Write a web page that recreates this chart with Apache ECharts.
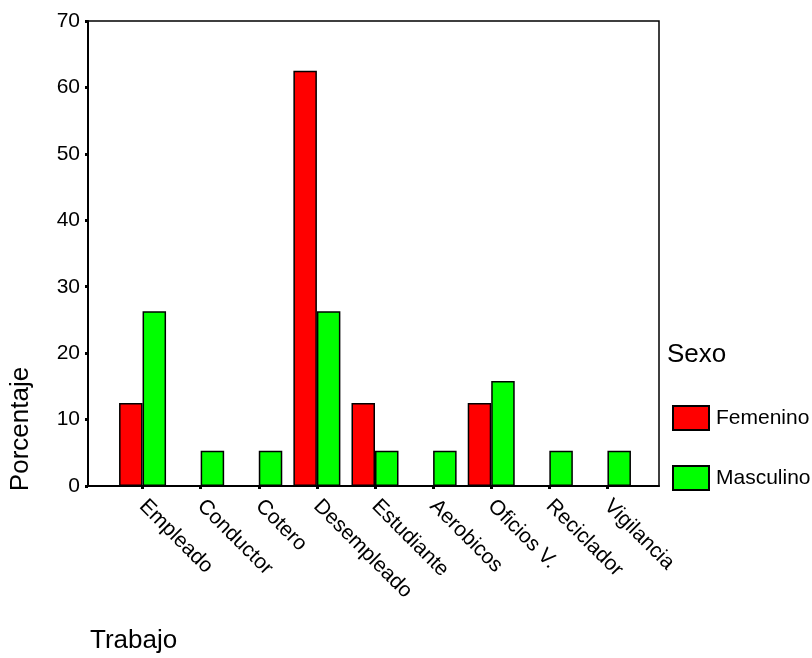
<!DOCTYPE html>
<html>
<head>
<meta charset="utf-8">
<script src="https://cdn.jsdelivr.net/npm/echarts@6/dist/echarts.min.js"></script>
<style>
html,body{margin:0;padding:0;background:#fff;}
#c{width:812px;height:658px;}
</style>
</head>
<body>
<div id="c"></div>
<script>
const categories = ['Empleado','Conductor','Cotero','Desempleado','Estudiante','Aerobicos','Oficios V.','Reciclador','Vigilancia'];
const femenino = [12.5, 0, 0, 62.5, 12.5, 0, 12.5, 0, 0];
const masculino = [26.3, 5.3, 5.3, 26.3, 5.3, 5.3, 15.8, 5.3, 5.3];
const yTicks = [0, 10, 20, 30, 40, 50, 60, 70];

const FONT = 'Liberation Sans, Arial, sans-serif';
const chart = echarts.init(document.getElementById('c'));
const toData = arr => arr.map(v => v === 0 ? '-' : v);

chart.setOption({
  animation: false,
  backgroundColor: '#fff',
  textStyle: { fontFamily: FONT },
  grid: [
    { left: 88, top: 21, width: 571, height: 465, show: true, borderColor: '#000', borderWidth: 1.5, backgroundColor: 'transparent' },
    { left: 113.5, top: 21, width: 523, height: 465 }
  ],
  xAxis: [
    { gridIndex: 0, type: 'value', min: 0, max: 1, show: true,
      axisLine: { show: true, lineStyle: { color: '#000', width: 2 } },
      axisTick: { show: false }, axisLabel: { show: false }, splitLine: { show: false } },
    { gridIndex: 1, type: 'category', data: categories,
      axisLine: { show: false },
      axisTick: { show: true, alignWithLabel: true, length: 3, lineStyle: { color: '#000', width: 3 } },
      axisLabel: { rotate: -45, fontSize: 21, color: '#000', margin: 17, interval: 0, fontFamily: FONT } }
  ],
  yAxis: [
    { gridIndex: 0, type: 'value', min: yTicks[0], max: yTicks[yTicks.length-1], interval: 10,
      axisLine: { show: true, lineStyle: { color: '#000', width: 2 } },
      axisTick: { show: true, length: 3, lineStyle: { color: '#000', width: 3 } },
      axisLabel: { fontSize: 21, color: '#000', margin: 8, fontFamily: FONT },
      splitLine: { show: false } },
    { gridIndex: 1, type: 'value', min: yTicks[0], max: yTicks[yTicks.length-1], show: false }
  ],
  legend: {
    orient: 'vertical', left: 672, top: 405, padding: 0, itemWidth: 36, itemHeight: 24, itemGap: 34,
    icon: 'rect',
    textStyle: { fontSize: 21, color: '#000', padding: [0,0,0,2], fontFamily: FONT },
    data: ['Femenino', 'Masculino']
  },
  series: [
    { name: 'Femenino', type: 'bar', xAxisIndex: 1, yAxisIndex: 1, data: toData(femenino),
      barWidth: 23.5, barGap: '0%',
      itemStyle: { color: '#ff0000', borderColor: '#000', borderWidth: 1.5 } },
    { name: 'Masculino', type: 'bar', xAxisIndex: 1, yAxisIndex: 1, data: toData(masculino),
      barWidth: 23.5, barGap: '0%',
      itemStyle: { color: '#00ff00', borderColor: '#000', borderWidth: 1.5 } }
  ],
  graphic: [
    { type: 'text', x: 21, y: 429, rotation: Math.PI/2,
      style: { text: 'Porcentaje', fontSize: 26, fill: '#000', align: 'center', verticalAlign: 'middle', fontFamily: FONT } },
    { type: 'text', left: 90, top: 628,
      style: { text: 'Trabajo', fontSize: 26, fill: '#000', fontFamily: FONT } },
    { type: 'text', left: 667, y: 355,
      style: { text: 'Sexo', fontSize: 26, fill: '#000', verticalAlign: 'middle', fontFamily: FONT } }
  ]
});
</script>
</body>
</html>
